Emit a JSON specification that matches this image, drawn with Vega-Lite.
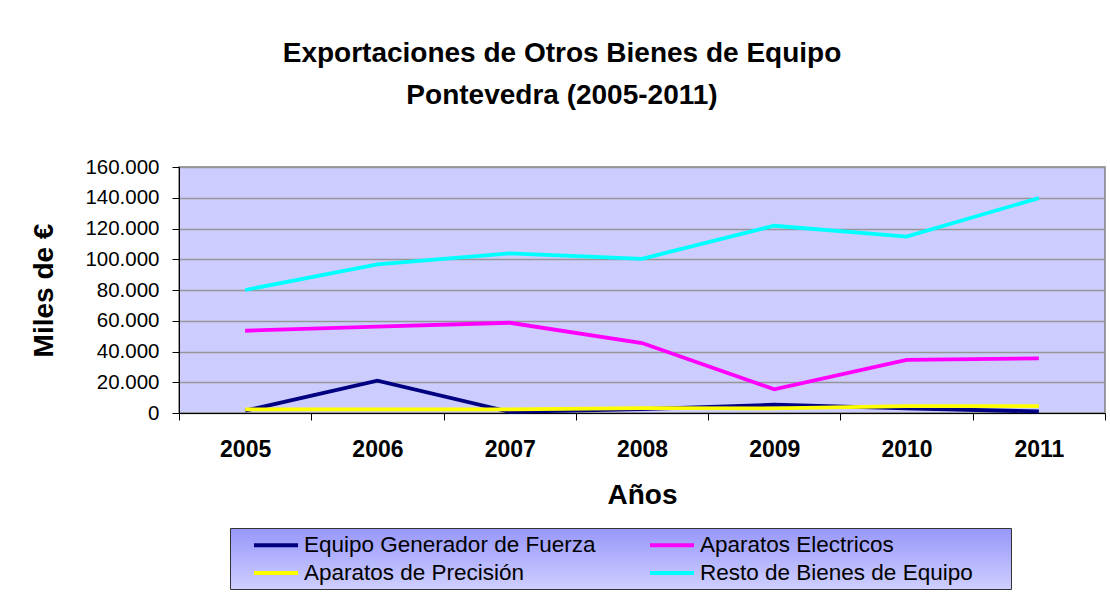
{
  "$schema": "https://vega.github.io/schema/vega-lite/v6.json",
  "autosize": {"type": "none"},
  "width": 926,
  "height": 246,
  "padding": {"left": 179, "top": 167, "right": 5, "bottom": 194},
  "background": "white",
  "title": {
    "text": ["Exportaciones de Otros Bienes de Equipo", "Pontevedra (2005-2011)"],
    "font": "Liberation Sans",
    "fontSize": 28,
    "fontWeight": "bold",
    "color": "black",
    "lineHeight": 42,
    "anchor": "middle",
    "dx": -80,
    "offset": 47
  },
  "data": {
    "values": [
      {"year": "2005", "serie": "Equipo Generador de Fuerza", "valor": 1500},
      {"year": "2006", "serie": "Equipo Generador de Fuerza", "valor": 21000},
      {"year": "2007", "serie": "Equipo Generador de Fuerza", "valor": 700},
      {"year": "2008", "serie": "Equipo Generador de Fuerza", "valor": 2500},
      {"year": "2009", "serie": "Equipo Generador de Fuerza", "valor": 5400},
      {"year": "2010", "serie": "Equipo Generador de Fuerza", "valor": 3000},
      {"year": "2011", "serie": "Equipo Generador de Fuerza", "valor": 1000},
      {"year": "2005", "serie": "Aparatos Electricos", "valor": 53500},
      {"year": "2006", "serie": "Aparatos Electricos", "valor": 56200},
      {"year": "2007", "serie": "Aparatos Electricos", "valor": 58700},
      {"year": "2008", "serie": "Aparatos Electricos", "valor": 45500},
      {"year": "2009", "serie": "Aparatos Electricos", "valor": 15400},
      {"year": "2010", "serie": "Aparatos Electricos", "valor": 34500},
      {"year": "2011", "serie": "Aparatos Electricos", "valor": 35500},
      {"year": "2005", "serie": "Aparatos de Precisión", "valor": 2400},
      {"year": "2006", "serie": "Aparatos de Precisión", "valor": 2400},
      {"year": "2007", "serie": "Aparatos de Precisión", "valor": 2400},
      {"year": "2008", "serie": "Aparatos de Precisión", "valor": 3200},
      {"year": "2009", "serie": "Aparatos de Precisión", "valor": 3000},
      {"year": "2010", "serie": "Aparatos de Precisión", "valor": 4500},
      {"year": "2011", "serie": "Aparatos de Precisión", "valor": 4500},
      {"year": "2005", "serie": "Resto de Bienes de Equipo", "valor": 80000},
      {"year": "2006", "serie": "Resto de Bienes de Equipo", "valor": 96700},
      {"year": "2007", "serie": "Resto de Bienes de Equipo", "valor": 103800},
      {"year": "2008", "serie": "Resto de Bienes de Equipo", "valor": 100300},
      {"year": "2009", "serie": "Resto de Bienes de Equipo", "valor": 121800},
      {"year": "2010", "serie": "Resto de Bienes de Equipo", "valor": 114700},
      {"year": "2011", "serie": "Resto de Bienes de Equipo", "valor": 139800}
    ]
  },
  "mark": {"type": "line", "strokeWidth": 3.8, "strokeJoin": "miter", "strokeCap": "butt"},
  "encoding": {
    "x": {
      "field": "year",
      "type": "ordinal",
      "scale": {"type": "band", "paddingInner": 0, "paddingOuter": 0},
      "axis": {
        "title": "Años",
        "labelAngle": 0,
        "tickBand": "extent",
        "grid": false,
        "labelFontWeight": "bold",
        "labelFontSize": 23,
        "labelPadding": 18,
        "titlePadding": 20
      }
    },
    "y": {
      "field": "valor",
      "type": "quantitative",
      "scale": {"domain": [0, 160000], "nice": false, "zero": true},
      "axis": {
        "title": "Miles de €",
        "values": [0, 20000, 40000, 60000, 80000, 100000, 120000, 140000, 160000],
        "format": ",d",
        "labelFontSize": 20.5,
        "labelPadding": 13,
        "titlePadding": 26,
        "grid": true
      }
    },
    "color": {
      "field": "serie",
      "type": "nominal",
      "scale": {
        "domain": ["Equipo Generador de Fuerza", "Aparatos Electricos", "Aparatos de Precisión", "Resto de Bienes de Equipo"],
        "range": ["#000080", "#FF00FF", "#FFFF00", "#00FFFF"]
      },
      "legend": {
        "title": null,
        "orient": "none",
        "legendX": 51,
        "legendY": 361,
        "columns": 2,
        "direction": "horizontal",
        "symbolType": "M-2,0H2",
        "symbolSize": 484,
        "symbolStrokeWidth": 4,
        "symbolOffset": 29,
        "labelFont": "Liberation Sans",
        "labelFontSize": 22.5,
        "labelColor": "black",
        "labelLimit": 600,
        "labelOffset": 15,
        "labelExpr": "datum.label + '\u2800\u2800'",
        "columnPadding": -22,
        "rowPadding": 3,
        "padding": 4,
        "fillColor": {"expr": "{gradient: 'linear', x1: 0, y1: 0, x2: 0, y2: 1, stops: [{offset: 0, color: '#9797FB'}, {offset: 1, color: '#CFCFFF'}]}"},
        "strokeColor": "#333333"
      }
    },
    "order": {"field": "year"}
  },
  "config": {
    "locale": {
      "number": {"decimal": ",", "thousands": ".", "grouping": [3], "currency": ["", " €"]}
    },
    "font": "Liberation Sans",
    "view": {"fill": "#CCCCFF", "stroke": "#808080", "strokeWidth": 1.5},
    "axis": {
      "domainColor": "black",
      "domainWidth": 1,
      "tickColor": "black",
      "tickSize": 7,
      "tickWidth": 1,
      "gridColor": "#969696",
      "gridWidth": 1.5,
      "labelColor": "black",
      "labelFont": "Liberation Sans",
      "titleFont": "Liberation Sans",
      "titleFontSize": 28,
      "titleFontWeight": "bold",
      "titleColor": "black"
    }
  }
}
